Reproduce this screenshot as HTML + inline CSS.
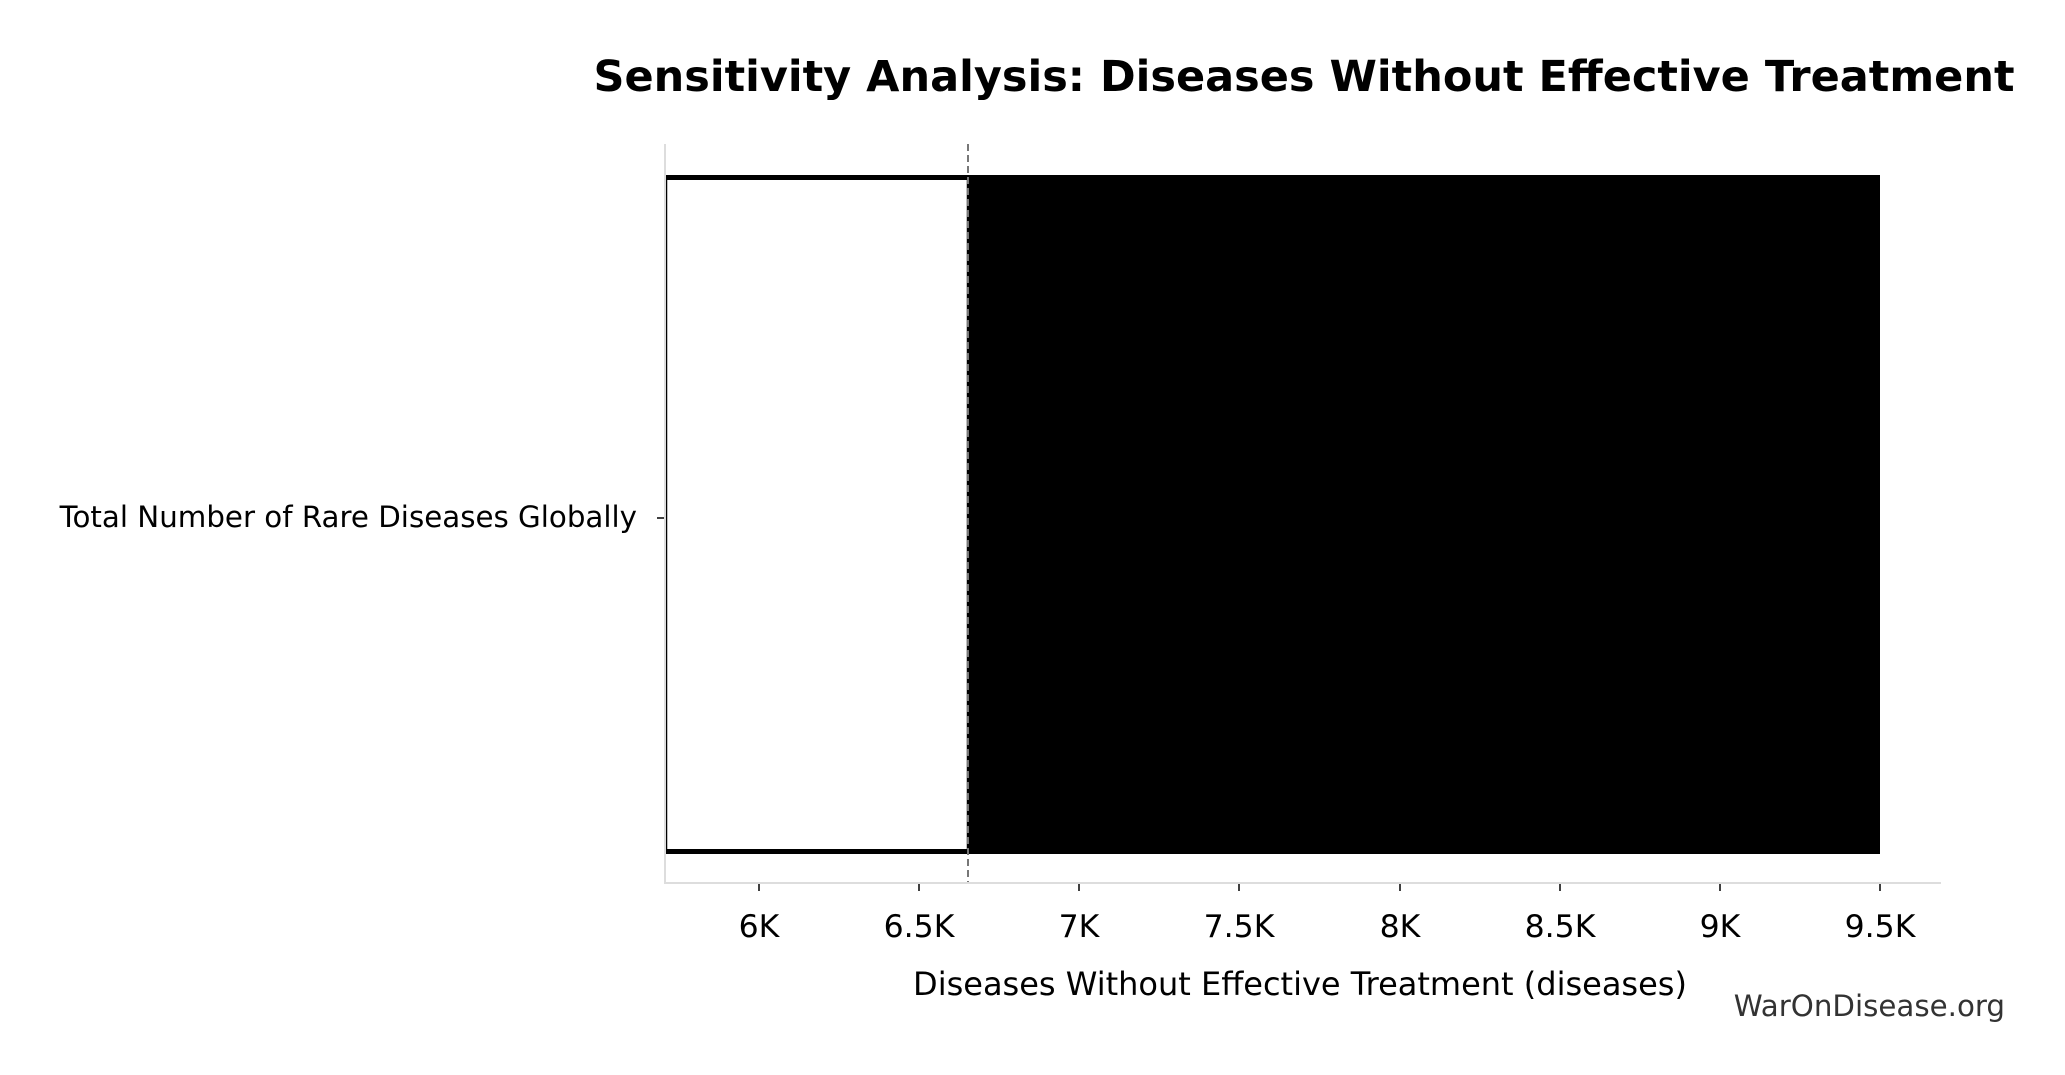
<!DOCTYPE html>
<html><head><meta charset="utf-8"><style>
body{margin:0;background:#fff;}
svg{display:block;font-family:"DejaVu Sans","Liberation Sans",sans-serif;}
</style></head><body>
<svg width="2065" height="1075" viewBox="0 0 2065 1075" xmlns="http://www.w3.org/2000/svg">
<rect width="2065" height="1075" fill="#fff"/>
<text x="1304" y="91" font-size="43" font-weight="bold" text-anchor="middle">Sensitivity Analysis: Diseases Without Effective Treatment</text>
<rect x="968" y="175" width="912" height="679" fill="#000"/>
<rect x="666" y="177" width="302" height="675" fill="#fff" stroke="#000" stroke-width="2.5"/>
<rect x="666" y="175" width="302" height="5" fill="#000"/>
<rect x="666" y="849" width="302" height="5" fill="#000"/>
<line x1="665" y1="144" x2="665" y2="883" stroke="#ddd" stroke-width="2"/>
<line x1="664" y1="883" x2="1941" y2="883" stroke="#ddd" stroke-width="2"/>
<line x1="968" y1="144" x2="968" y2="882" stroke="#777" stroke-width="2" stroke-dasharray="7,4"/>
<line x1="657" y1="518" x2="664" y2="518" stroke="#000" stroke-width="1.5"/>
<text x="637" y="527" font-size="29.3" text-anchor="end">Total Number of Rare Diseases Globally</text>
<g stroke="#000" stroke-width="1.5">
<line x1="759" y1="884" x2="759" y2="891"/><line x1="919" y1="884" x2="919" y2="891"/>
<line x1="1079" y1="884" x2="1079" y2="891"/><line x1="1239" y1="884" x2="1239" y2="891"/>
<line x1="1400" y1="884" x2="1400" y2="891"/><line x1="1560" y1="884" x2="1560" y2="891"/>
<line x1="1720" y1="884" x2="1720" y2="891"/><line x1="1880" y1="884" x2="1880" y2="891"/>
</g>
<g font-size="31.5" text-anchor="middle">
<text x="759" y="937">6K</text><text x="919" y="937">6.5K</text>
<text x="1079" y="937">7K</text><text x="1239" y="937">7.5K</text>
<text x="1400" y="937">8K</text><text x="1560" y="937">8.5K</text>
<text x="1720" y="937">9K</text><text x="1880" y="937">9.5K</text>
</g>
<text x="1300" y="995" font-size="32" text-anchor="middle">Diseases Without Effective Treatment (diseases)</text>
<text x="2005" y="1016" font-size="29.3" fill="#333" text-anchor="end">WarOnDisease.org</text>
</svg>
</body></html>
